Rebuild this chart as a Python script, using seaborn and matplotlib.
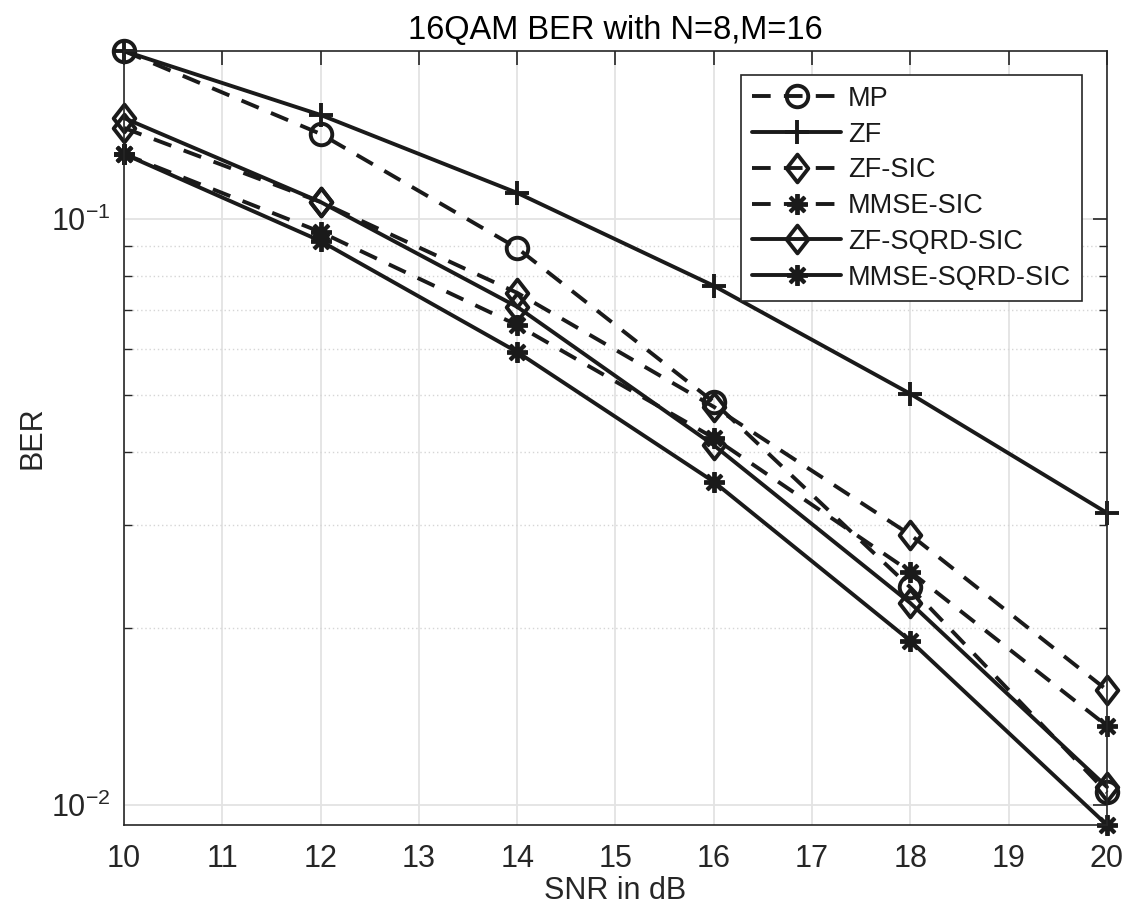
# 16QAM BER curves, N=8, M=16 (MATLAB-style log plot)

import numpy as np
import matplotlib
matplotlib.use("Agg")
import matplotlib.pyplot as plt
from matplotlib.path import Path
from matplotlib.ticker import LogLocator, NullFormatter
import seaborn as sns

# data
snr = [10, 12, 14, 16, 18, 20]
ber_mp = [0.1935, 0.1397, 0.0892, 0.0487, 0.0235, 0.0105]
ber_zf = [0.1935, 0.1505, 0.1108, 0.0769, 0.0503, 0.0315]
ber_zf_sic = [0.1430, 0.1069, 0.0748, 0.0478, 0.0289, 0.0157]
ber_mmse_sic = [0.1291, 0.0950, 0.0659, 0.0423, 0.0250, 0.01364]
ber_zf_sqrd = [0.1487, 0.1069, 0.0708, 0.0411, 0.0221, 0.01073]
ber_mmse_sqrd = [0.1291, 0.0917, 0.0593, 0.0356, 0.01905, 0.00924]

labels = ['MP', 'ZF', 'ZF-SIC', 'MMSE-SIC', 'ZF-SQRD-SIC', 'MMSE-SQRD-SIC']

sns.set_theme(style="white")
plt.rcParams['font.family'] = ['Liberation Sans', 'DejaVu Sans']
plt.rcParams['mathtext.fontset'] = 'custom'
plt.rcParams['mathtext.rm'] = 'Liberation Sans'
plt.rcParams['mathtext.it'] = 'Liberation Sans'
plt.rcParams['mathtext.default'] = 'regular'
plt.rcParams['axes.unicode_minus'] = False

axcol = '#262626'
lc = '#1a1a1a'

# MATLAB-like markers
diamond = Path([(0, 1), (0.78, 0), (0, -1), (-0.78, 0), (0, 1)],
               [Path.MOVETO, Path.LINETO, Path.LINETO, Path.LINETO, Path.CLOSEPOLY])
asterisk = (8, 2, 0)

fig = plt.figure(figsize=(11.22, 9.14), dpi=100)
ax = fig.add_axes([0.1105, 0.0974, 0.8761, 0.8468])

common = dict(color=lc, linewidth=2.8, markeredgecolor=lc, markeredgewidth=2.8,
              clip_on=False, ax=ax)
dash = (4.8, 3.4)

sns.lineplot(x=snr, y=ber_mp, marker='o', markersize=15.5, markerfacecolor='none',
             linestyle=(0, dash), label=labels[0], **common)
sns.lineplot(x=snr, y=ber_zf, marker='+', markersize=17, linestyle='-',
             label=labels[1], **common)
sns.lineplot(x=snr, y=ber_zf_sic, marker=diamond, markersize=20, markerfacecolor='none',
             linestyle=(0, dash), label=labels[2], **common)
sns.lineplot(x=snr, y=ber_mmse_sic, marker=asterisk, markersize=15,
             linestyle=(0, dash), label=labels[3], **common)
sns.lineplot(x=snr, y=ber_zf_sqrd, marker=diamond, markersize=20, markerfacecolor='none',
             linestyle='-', label=labels[4], **common)
sns.lineplot(x=snr, y=ber_mmse_sqrd, marker=asterisk, markersize=15,
             linestyle='-', label=labels[5], **common)

ax.set_yscale('log')
ax.set_xlim(10, 20)
ax.set_ylim(min(ber_mmse_sqrd), max(ber_mp))
ax.set_xticks(range(10, 21))
ax.yaxis.set_major_locator(LogLocator(base=10))
ax.yaxis.set_minor_locator(LogLocator(base=10, subs=np.arange(2, 10)))
ax.yaxis.set_minor_formatter(NullFormatter())

# grid
ax.grid(True, which='major', color='#e3e3e3', linewidth=1.3, linestyle='-')
ax.grid(True, which='minor', axis='y', color='#d6d6d6', linewidth=1.0, linestyle=(0, (1, 2)))
ax.set_axisbelow(True)

for s in ax.spines.values():
    s.set_visible(True)
    s.set_color(axcol)
    s.set_linewidth(1.2)

ax.tick_params(axis='both', which='major', direction='in', length=10, width=1.2,
               colors=axcol, labelsize=22, top=True, right=True)
ax.tick_params(axis='x', which='major', pad=14)
ax.tick_params(axis='y', which='major', pad=10)
ax.tick_params(axis='y', which='minor', direction='in', length=6, width=1.0,
               colors=axcol, left=True, right=True)
ax.tick_params(axis='x', which='minor', bottom=False, top=False)

ax.set_title('16QAM BER with N=8,M=16', fontsize=23.5, color='black', pad=9)
ax.set_xlabel('SNR in dB', fontsize=22, color=axcol, labelpad=1)
ax.set_ylabel('BER', fontsize=22, color=axcol, labelpad=2)

leg = ax.legend(loc='upper right', bbox_to_anchor=(0.9746, 0.969), borderaxespad=0,
                fontsize=19.5, handlelength=3.3, handletextpad=0.25, labelspacing=0.36,
                fancybox=False, framealpha=1, edgecolor=axcol, borderpad=0.4)
leg.get_frame().set_linewidth(1.2)
for t in leg.get_texts():
    t.set_color(lc)

fig.savefig('out.png', dpi=100)
